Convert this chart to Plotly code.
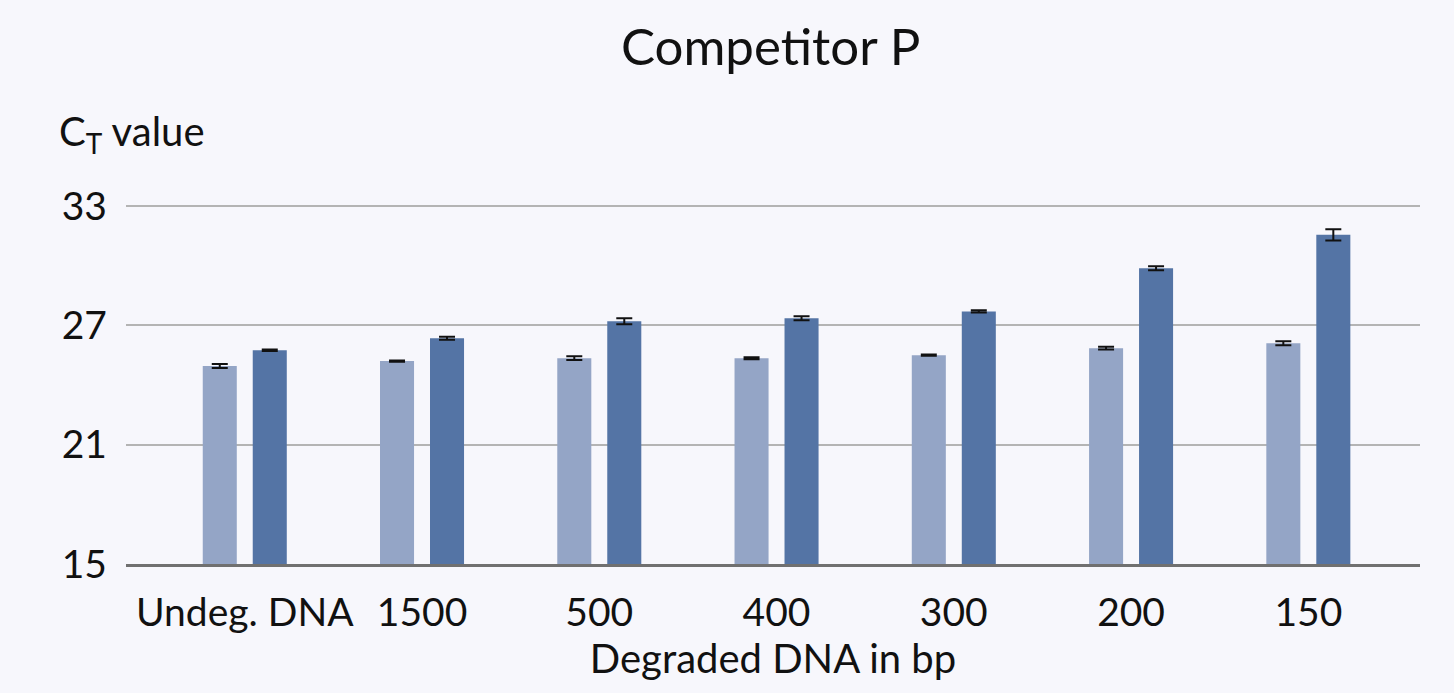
import plotly.graph_objects as go

categories = ["Undeg. DNA", "1500", "500", "400", "300", "200", "150"]
series_a = [24.95, 25.2, 25.35, 25.35, 25.5, 25.85, 26.1]
series_a_err = [0.1, 0.03, 0.1, 0.05, 0.03, 0.07, 0.1]
series_b = [25.75, 26.35, 27.2, 27.35, 27.7, 29.87, 31.55]
series_b_err = [0.04, 0.07, 0.15, 0.1, 0.06, 0.1, 0.28]

FONT = "Lato"

fig = go.Figure()
fig.add_trace(go.Bar(
    x=categories, y=series_a, base=0,
    width=0.192, offset=-0.237,
    marker=dict(color="#94A5C6", line=dict(width=0)),
    error_y=dict(type="data", array=series_a_err, visible=True, color="#111111", thickness=2, width=8),
    showlegend=False,
))
fig.add_trace(go.Bar(
    x=categories, y=series_b, base=0,
    width=0.192, offset=0.045,
    marker=dict(color="#5474A5", line=dict(width=0)),
    error_y=dict(type="data", array=series_b_err, visible=True, color="#111111", thickness=2, width=8),
    showlegend=False,
))

fig.update_layout(
    width=1454, height=693,
    paper_bgcolor="#F7F7FC", plot_bgcolor="#F7F7FC",
    margin=dict(l=126, r=34, t=200, b=129),
    font=dict(family=FONT, color="#111111"),
    title=dict(text="Competitor P", x=0.53, xanchor="center", y=0.932, yanchor="middle",
               font=dict(size=51, family=FONT, color="#111111")),
    barmode="overlay",
    xaxis=dict(
        type="category", range=[-0.67, 6.63],
        showgrid=False, showline=True, linecolor="#707070", linewidth=3,
        ticks="", tickfont=dict(size=39), ticklabelstandoff=12,
        title=dict(text="Degraded DNA in bp", font=dict(size=40), standoff=10),
    ),
    yaxis=dict(
        range=[15, 33.3], tickvals=[15, 21, 27, 33],
        showgrid=True, gridcolor="#B4B4B4", gridwidth=2,
        zeroline=False, showline=False, ticks="",
        tickfont=dict(size=39), ticklabelstandoff=18,
    ),
    annotations=[dict(
        text="C<sub>T</sub> value",
        xref="x domain", yref="y domain",
        x=(57 - 126) / 1294, y=(564 - 133) / 364,
        xanchor="left", yanchor="middle",
        showarrow=False, font=dict(size=40, family=FONT, color="#111111"),
    )],
)

fig.write_html("out.html", config={"displayModeBar": False},
               post_script="document.body.style.margin='0';document.body.style.overflow='hidden';")
